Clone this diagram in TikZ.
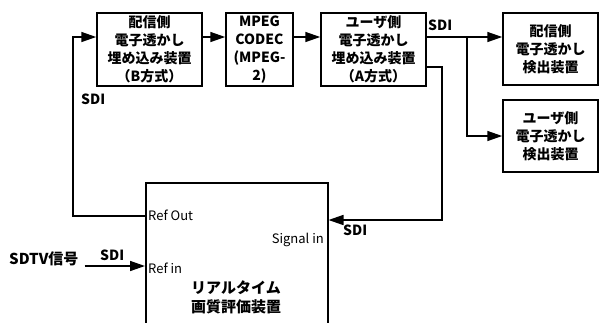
\documentclass[tikz,border=0pt]{standalone}
\usepackage{fontspec}
\setmainfont{Noto Sans CJK JP}
\usetikzlibrary{arrows.meta}

\begin{document}
\begin{tikzpicture}[x=1pt,y=-1pt,
  wire/.style={line width=1.5pt},
  arr/.style={wire,-{Triangle[length=15pt,width=10pt]}},
  box/.style={draw,line width=1.5pt,align=center,inner sep=0pt,minimum height=73pt,
    font=\fontsize{14}{18}\selectfont\bfseries},
  lbl/.style={inner sep=1pt,font=\fontsize{14}{16}\selectfont\bfseries},
  port/.style={inner sep=1pt,font=\fontsize{13}{15}\selectfont}]
  \clip (0,0) rectangle (599,322);

  % blocks in the upper row
  \node[box,minimum width=105pt] (embB) at (149.5,49.5) {配信側\\電子透かし\\埋め込み装置\\（B方式）};
  \node[box,minimum width=67pt] (mpeg) at (259.5,49.5) {MPEG\\CODEC\\(MPEG-\\2)};
  \node[box,minimum width=105pt] (embA) at (373.5,49.5) {ユーザ側\\電子透かし\\埋め込み装置\\（A方式）};
  \node[box,minimum width=95pt,minimum height=72pt] (detDist) at (550.5,49) {配信側\\電子透かし\\検出装置};
  \node[box,minimum width=95pt,minimum height=72pt] (detUser) at (550.5,136) {ユーザ側\\電子透かし\\検出装置};

  % evaluator (runs off the bottom)
  \node[draw,line width=1.5pt,minimum width=182pt,minimum height=170pt,anchor=north west] (eval) at (145,182) {};
  \node[font=\fontsize{15}{19}\selectfont\bfseries,align=center] (evalname) at (236,297) {リアルタイム\\画質評価装置};

  \coordinate (busY) at (0,37);
  \coordinate (split) at (467,37);
  \coordinate (bendA) at (442,67);
  \coordinate (bendB) at (442,220);
  \coordinate (fbBot) at (73,216);
  \coordinate (fbTop) at (73,37);

  \draw[arr] (embB.east |- busY) -- (mpeg.west |- busY);
  \draw[arr] (mpeg.east |- busY) -- (embA.west |- busY);
  \draw[wire] (embA.east |- busY) -- (split);
  \draw[arr] (split) -- (detDist.west |- split);
  \draw[arr] (split) |- (detUser.west);
  \draw[arr] (embA.east |- bendA) -- (bendA) -- (bendB) -- (eval.east |- bendB);
  \draw[arr] (eval.west |- fbBot) -- (fbBot) -- (fbTop) -- (embB.west |- fbTop);

  \node[font=\fontsize{15}{17}\selectfont\bfseries,anchor=west,inner sep=0pt] (sdtv) at (9,259) {SDTV信号};
  \coordinate (inY) at (0,266);
  \draw[arr] (sdtv.east |- inY) ++(6,0) -- (eval.west |- inY);

  % port and signal labels
  \node[port,anchor=west] (refOut) at (147,215) {Ref Out};
  \node[port,anchor=west] (refIn) at (147,268) {Ref in};
  \node[port,anchor=east] (sigIn) at (325,240) {Signal in};
  \node[lbl,anchor=west] (sdiA) at (427,25) {SDI};
  \node[lbl,anchor=west] (sdiFb) at (80,99) {SDI};
  \node[lbl,anchor=west] (sdiSig) at (342,230) {SDI};
  \node[lbl,anchor=west] (sdiIn) at (99,255) {SDI};
\end{tikzpicture}
\end{document}
